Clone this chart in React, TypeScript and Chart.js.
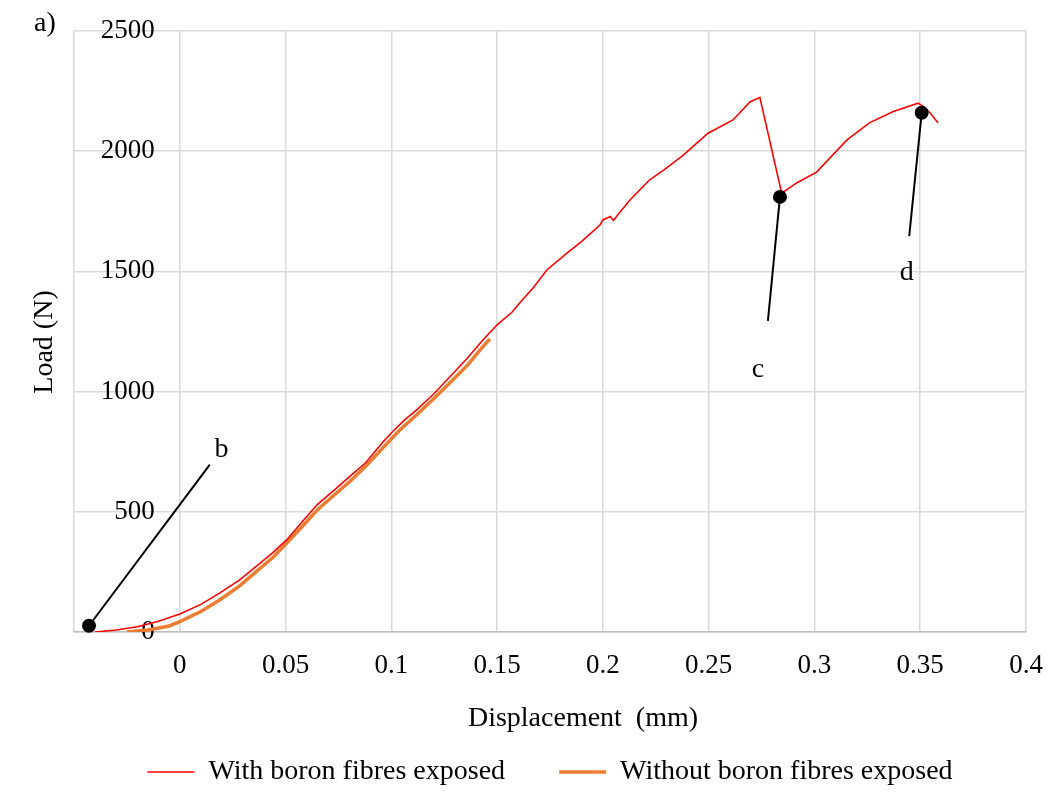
import { useEffect, useRef } from 'react';
import { Chart, registerables } from 'chart.js';

Chart.register(...registerables);

const FONT = "'Liberation Serif', 'Times New Roman', serif";

// Series: with boron fibres exposed (red)
const withFibresX = [
  -0.04, -0.03, -0.02, -0.01, 0.0, 0.01, 0.019, 0.028, 0.036, 0.044, 0.0506, 0.058, 0.065, 0.073,
  0.0804, 0.088, 0.096, 0.1, 0.106, 0.112, 0.12, 0.1277, 0.136, 0.1433, 0.15, 0.157, 0.162, 0.167,
  0.1735, 0.183, 0.19, 0.1986, 0.2, 0.2035, 0.205, 0.207, 0.2128, 0.222, 0.23, 0.238, 0.2497,
  0.2615, 0.2695, 0.2742, 0.2845, 0.292, 0.301, 0.3154, 0.326, 0.337, 0.349, 0.3508, 0.3546, 0.3584,
];
const withFibresY = [
  0, 8, 22, 45, 75, 115, 163, 215, 272, 330, 384, 460, 530, 590,
  647, 705, 790, 828, 880, 924, 990, 1062, 1140, 1215, 1278, 1330, 1382, 1431,
  1506, 1576, 1625, 1693, 1714, 1728, 1712, 1735, 1797, 1880, 1930, 1984, 2075,
  2130, 2205, 2224, 1825, 1870, 1913, 2047, 2118, 2164, 2200, 2190, 2160, 2118,
];

// Series: without boron fibres exposed (orange)
const withoutFibresX = [
  -0.025, -0.015, -0.005, 0.0, 0.01, 0.019, 0.028, 0.036, 0.044, 0.0506, 0.058, 0.065, 0.073,
  0.0804, 0.088, 0.096, 0.104, 0.112, 0.12, 0.1277, 0.136, 0.1433, 0.1466,
];
const withoutFibresY = [
  0, 8, 25, 43, 85, 134, 190, 250, 310, 370, 440, 508, 570,
  626, 690, 766, 840, 904, 970, 1037, 1110, 1187, 1219,
];

// Annotation markers (b, c, d)
const markerNames = ['b', 'c', 'd'];
const markerX = [-0.0429, 0.2837, 0.3507];
const markerY = [26, 1810, 2160];
const leaderEndX = [0.0142, 0.278, 0.3448];
const leaderEndY = [696, 1294, 1647];
const markerLabelX = [0.0197, 0.2733, 0.3436];
const markerLabelY = [760, 1090, 1493];

// Axes
const xMin = -0.05;
const xMax = 0.4;
const xStep = 0.05;
const yMin = 0;
const yMax = 2500;
const yStep = 500;
const yLabelAnchorX = -0.0118;

const seriesNames = ['With boron fibres exposed', 'Without boron fibres exposed'];
const xTitle = 'Displacement  (mm)';
const yTitle = 'Load (N)';
const panelLabel = 'a)';

const toPoints = (xs: number[], ys: number[]) => xs.map((x, i) => ({ x, y: ys[i] }));

const textPlugin = {
  id: 'extraText',
  afterDraw(chart: any) {
    const ctx = chart.ctx;
    const xs = chart.scales.x;
    const ys = chart.scales.y;
    const area = chart.chartArea;
    ctx.save();
    ctx.fillStyle = '#000';
    ctx.font = `28px ${FONT}`;
    ctx.textAlign = 'center';
    ctx.textBaseline = 'middle';
    markerNames.forEach((t, i) => {
      ctx.fillText(t, xs.getPixelForValue(markerLabelX[i]), ys.getPixelForValue(markerLabelY[i]));
    });
    ctx.fillText(panelLabel, 45, 24);
    ctx.fillText(xTitle, (area.left + area.right) / 2 + 33, 719);
    ctx.translate(45, 342);
    ctx.rotate(-Math.PI / 2);
    ctx.fillText(yTitle, 0, 0);
    ctx.restore();
  },
};

export default function App() {
  const ref = useRef<HTMLCanvasElement | null>(null);

  useEffect(() => {
    if (!ref.current) return;
    const leaderSets = markerNames.map((n, i) => ({
      label: 'leader ' + n,
      data: [
        { x: markerX[i], y: markerY[i] },
        { x: leaderEndX[i], y: leaderEndY[i] },
      ],
      showLine: true,
      borderColor: '#000',
      borderWidth: 2,
      pointRadius: 0,
      order: -1,
      clip: false,
    }));
    const chart = new Chart(ref.current, {
      type: 'scatter',
      data: {
        datasets: [
          {
            label: seriesNames[0],
            data: toPoints(withFibresX, withFibresY),
            showLine: true,
            borderColor: '#FF0000',
            backgroundColor: '#FF0000',
            borderWidth: 1.6,
            pointRadius: 0,
            tension: 0,
          },
          {
            label: seriesNames[1],
            data: toPoints(withoutFibresX, withoutFibresY),
            showLine: true,
            borderColor: '#ED7D31',
            backgroundColor: '#ED7D31',
            borderWidth: 3.5,
            pointRadius: 0,
            tension: 0,
          },
          ...leaderSets,
          {
            label: 'markers',
            data: toPoints(markerX, markerY),
            showLine: false,
            pointRadius: 7,
            pointBackgroundColor: '#000',
            pointBorderColor: '#000',
            borderWidth: 0,
            order: -2,
            clip: false,
          } as any,
        ],
      },
      options: {
        responsive: false,
        animation: false,
        events: [],
        layout: { padding: { left: 74, right: 25, top: 31, bottom: 0 } },
        scales: {
          x: {
            type: 'linear',
            min: xMin,
            max: xMax,
            afterFit: (scale: any) => {
              scale.height = 72;
              scale.paddingLeft = 0;
              scale.paddingRight = 0;
            },
            ticks: {
              stepSize: xStep,
              padding: 18,
              color: '#000',
              font: { family: FONT, size: 27 },
              maxRotation: 0,
              autoSkip: false,
              callback: (v: any) => {
                const n = Number(v);
                if (Math.abs(n - xMin) < 1e-9) return '';
                return String(Number(n.toFixed(2)));
              },
            },
            grid: { color: '#d9d9d9', lineWidth: 1.5, drawTicks: false },
            border: { color: '#bfbfbf', width: 1.5 },
          },
          y: {
            type: 'linear',
            position: { x: yLabelAnchorX } as any,
            min: yMin,
            max: yMax,
            ticks: {
              stepSize: yStep,
              padding: 0,
              color: '#000',
              font: { family: FONT, size: 27 },
              callback: (v: any) => String(Number(v)),
            },
            grid: { color: '#d9d9d9', lineWidth: 1.5, drawTicks: false },
            border: { display: false },
          },
        },
        plugins: {
          tooltip: { enabled: false },
          legend: {
            position: 'bottom',
            labels: {
              usePointStyle: true,
              pointStyle: 'line',
              pointStyleWidth: 47,
              padding: 54,
              color: '#000',
              font: { family: FONT, size: 28 },
              filter: (item: any) => item.datasetIndex < 2,
            },
          },
        },
      },
      plugins: [textPlugin],
    });
    return () => chart.destroy();
  }, []);

  return (
    <div style={{ position: 'absolute', left: 0, top: 0, width: 1051, height: 796, background: '#fff' }}>
      <canvas ref={ref} width={1051} height={796} style={{ display: 'block' }} />
    </div>
  );
}
